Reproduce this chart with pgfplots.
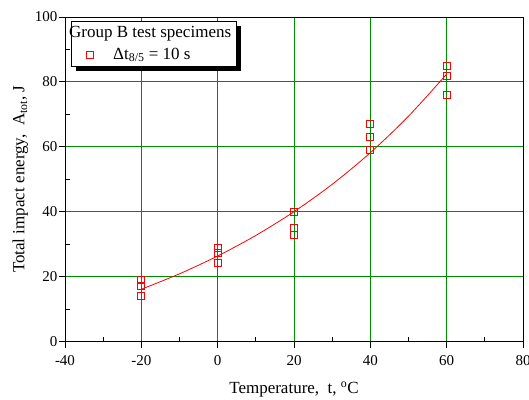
\documentclass[border=0pt]{standalone}
\usepackage{fontspec}
\setmainfont{Liberation Serif}
\usepackage{pgfplots}
\pgfplotsset{compat=1.18}
\definecolor{gridgreen}{RGB}{0,140,0}
\begin{document}
\begin{tikzpicture}
\useasboundingbox (0,0) rectangle (529pt,399pt);
\begin{axis}[
  at={(65pt,57.5pt)}, anchor=south west,
  scale only axis, width=458pt, height=324.5pt,
  xmin=-40, xmax=80, ymin=0, ymax=100,
  xtick={-40,-20,...,80}, ytick={0,20,...,100},
  minor x tick num=1, minor y tick num=1,
  tick pos=left, tick align=inside,
  major tick length=-6pt, minor tick length=5pt,
  grid=major, major grid style={gridgreen, line width=0.9pt},
  axis line style={line width=0.9pt},
  tick style={black, line width=0.8pt},
  /pgf/number format/assume math mode=true,
  ticklabel style={font=\fontsize{15}{18}\selectfont},
  xticklabel style={yshift=-10pt}, yticklabel style={xshift=-4pt},
  label style={font=\fontsize{17}{20}\selectfont},
  xlabel style={yshift=-10pt},
  xlabel={Temperature,\ \ t, \textsuperscript{o}C},
  ylabel={Total impact energy,\ \ A\textsubscript{tot}, J},
  legend style={at={(axis description cs:0,1)}, anchor=north west,
    xshift=6pt, yshift=-4pt, draw=black, thin, fill=white,
    font=\fontsize{17}{20}\selectfont, row sep=5pt, inner ysep=3pt,
    name=leg},
  legend cell align=left,
]
\addplot[red, line width=0.8pt, smooth, forget plot] coordinates {
(-20,16.1) (-10,20.86) (0,26.35) (10,32.69) (20,40.0) (30,48.44) (40,58.18) (50,69.43) (60,82.4)};
\addplot[only marks, mark=square, mark size=3.5pt, red, mark options={line width=0.7pt}, forget plot] coordinates {
(-20,19) (-20,17) (-20,14)
(0,29) (0,27.4) (0,24.1)
(20,40) (20,35.1) (20,33)
(40,67) (40,63) (40,59)
(60,85) (60,82) (60,76)};
\addlegendimage{empty legend}
\addlegendentry{\hspace*{-44pt}Group B test specimens}
\addlegendimage{legend image code/.code={\path[draw=none, fill=none] (0pt,-3pt) rectangle (37pt,3pt); \path[draw=red, fill=none, line width=0.7pt] (12pt,-3.5pt) rectangle (19pt,3.5pt);}}
\addlegendentry{Δt\textsubscript{8/5} = 10 s}
\end{axis}
\fill[black] ([yshift=-5pt]leg.north east) rectangle ([xshift=5pt,yshift=-5pt]leg.south east);
\fill[black] ([xshift=5pt,yshift=-5pt]leg.south west) rectangle (leg.south east);
\end{tikzpicture}
\end{document}
